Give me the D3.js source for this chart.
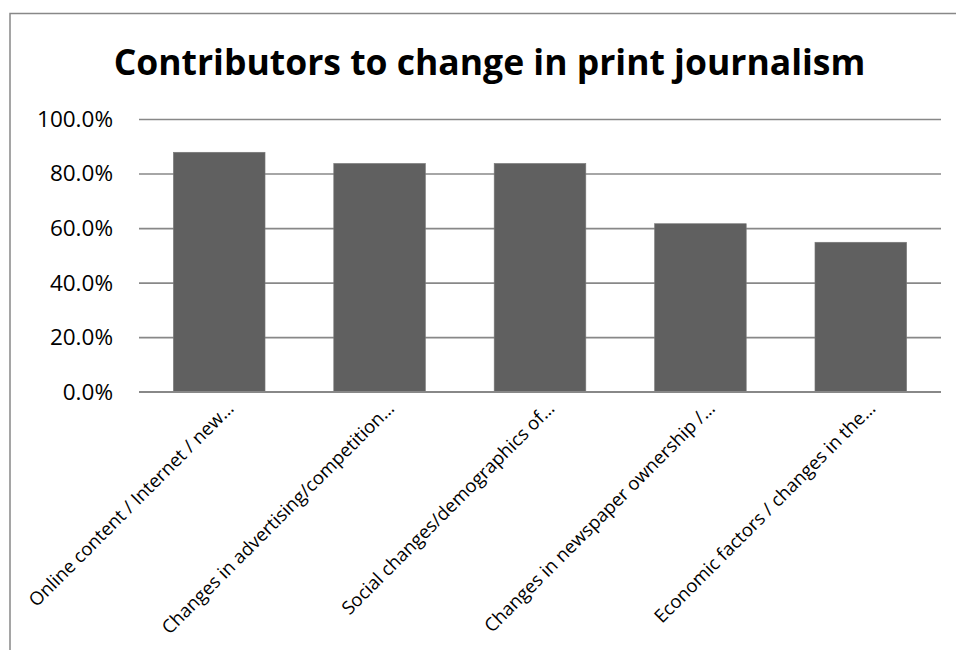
<!DOCTYPE html>
<html><head><meta charset="utf-8">
<script src="https://cdn.jsdelivr.net/npm/d3@7"></script>
<style>
html,body{margin:0;padding:0;background:#fff;}
svg{display:block;}
text{font-family:"Open Sans","Noto Sans",sans-serif;fill:#000;}
</style></head>
<body>
<svg id="chart" width="956" height="650"></svg>
<script>
const title = "Contributors to change in print journalism";
const categories = [
  "Online content / Internet / new\u2026",
  "Changes in advertising/competition\u2026",
  "Social changes/demographics of\u2026",
  "Changes in newspaper ownership /\u2026",
  "Economic factors / changes in the\u2026"
];
const values = [0.878, 0.837, 0.837, 0.616, 0.548];
const yTicks = [0, 0.2, 0.4, 0.6, 0.8, 1.0];

const svg = d3.select("#chart");
const plot = {left: 139, right: 941, top: 119, bottom: 391.7};

// frame
svg.append("rect").attr("x", 10).attr("y", 13.5).attr("width", 960).attr("height", 700)
  .attr("fill", "none").attr("stroke", "#888").attr("stroke-width", 1.5);

const x = d3.scaleBand().domain(categories).range([plot.left, plot.right]).paddingInner(0.4286).paddingOuter(0.2143);
const y = d3.scaleLinear().domain([0, 1]).range([plot.bottom, plot.top]);

// gridlines + y labels
const yAxis = d3.axisLeft(y).tickValues(yTicks).tickFormat(d3.format(".1%"))
  .tickSize(-(plot.right - plot.left)).tickPadding(26);
const gy = svg.append("g").attr("transform", `translate(${plot.left},0)`).call(yAxis);
gy.select(".domain").remove();
gy.selectAll(".tick line").attr("stroke", "#888").attr("stroke-width", 1.6);
gy.selectAll(".tick text").attr("font-size", 22.5).attr("fill", "#000")
  .attr("font-family", "'Open Sans',sans-serif").attr("dy", "0.33em");

// bars
svg.append("g").selectAll("rect").data(values).join("rect")
  .attr("x", (d, i) => x(categories[i]))
  .attr("y", d => y(d))
  .attr("width", x.bandwidth())
  .attr("height", d => y(0) - y(d))
  .attr("fill", "#606060").attr("stroke", "#7a7a7a").attr("stroke-width", 0.6);

// baseline over bars
svg.append("line").attr("x1", plot.left).attr("x2", plot.right)
  .attr("y1", y(0)).attr("y2", y(0)).attr("stroke", "#888").attr("stroke-width", 1.6);

// x labels
const gx = svg.append("g");
gx.selectAll("text").data(categories).join("text")
  .attr("transform", d => `translate(${x(d) + x.bandwidth() / 2 + 4},${plot.bottom + 6}) rotate(-45)`)
  .attr("text-anchor", "end").attr("dy", "0.9em")
  .attr("font-size", 18.5)
  .text(d => d);

// title
svg.append("text").attr("x", 489.5).attr("y", 74.5).attr("text-anchor", "middle")
  .attr("font-weight", "bold").attr("font-size", 35.5).text(title);
</script>
</body></html>
